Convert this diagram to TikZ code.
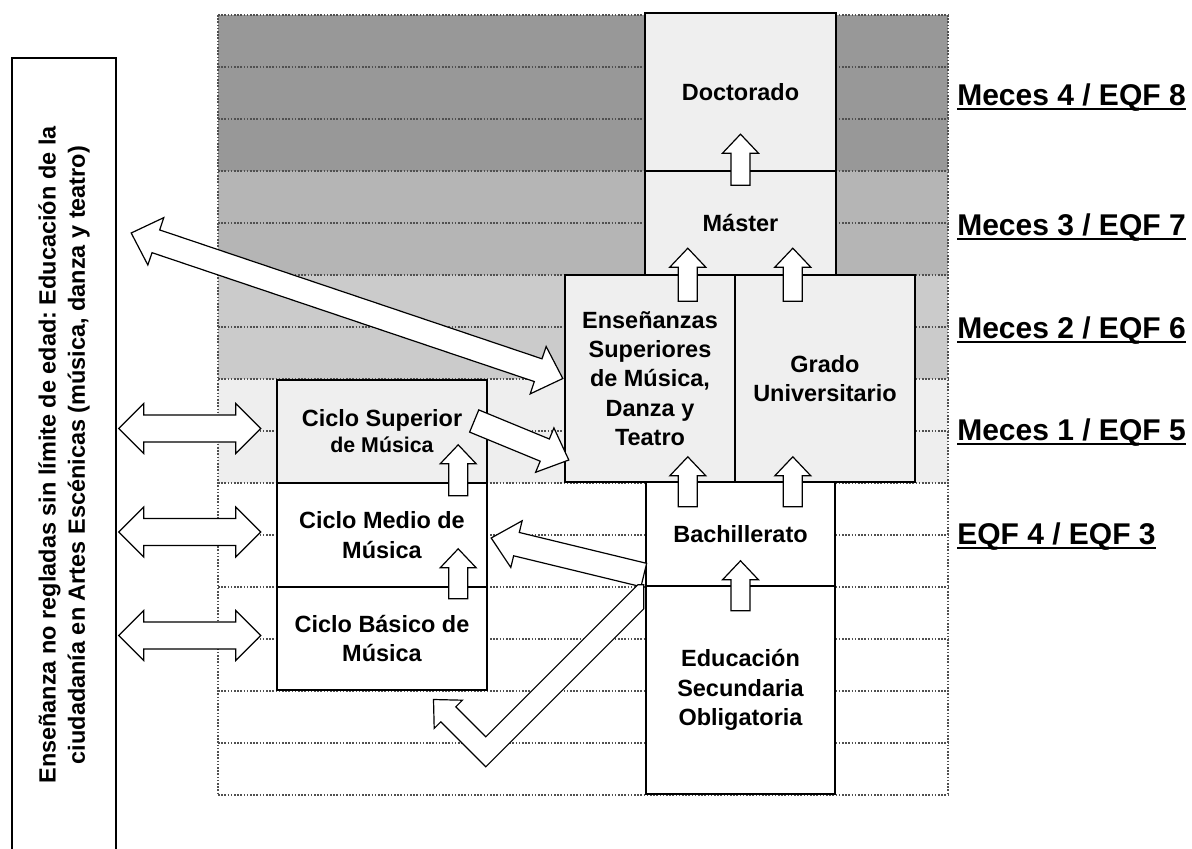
\documentclass[tikz,border=0pt]{standalone}
\usepackage{fontspec}
\setmainfont{Liberation Sans}
\frenchspacing
\usetikzlibrary{calc}
\definecolor{bandA}{HTML}{989898}
\definecolor{bandB}{HTML}{B5B5B5}
\definecolor{bandC}{HTML}{CBCBCB}
\definecolor{bandD}{HTML}{EEEEEE}
\definecolor{boxfill}{HTML}{EFEFEF}
\definecolor{gridc}{HTML}{505050}
\newsavebox\ulsave
\newcommand\ulbox[1]{\sbox\ulsave{#1}\rlap{\rule[-3.9pt]{\wd\ulsave}{1.5pt}}\usebox\ulsave}
\tikzset{
  box/.style={draw=black, line width=1.8pt, inner sep=0pt, align=center,
    font={\bfseries\fontsize{17.6}{22}\selectfont}, text=black},
  blockarr/.style={draw=black, fill=white, line width=0.9pt, line join=miter},
  gridline/.style={gridc, line width=0.8pt, dash pattern=on 1.2pt off 1.2pt},
  levellabel/.style={anchor=base west, inner sep=0pt,
    font={\bfseries\fontsize{22.5}{27}\selectfont}},
}
% single block arrow: start, tip, shaft half width, head half width, head length
\newcommand\blkarrow[5]{%
  \coordinate (ba-h) at ($(#2)!#5!(#1)$);
  \draw[blockarr] ($(#1)!#3!90:(#2)$) -- ($(ba-h)!#3!90:(#2)$) -- ($(ba-h)!#4!90:(#2)$)
    -- (#2) -- ($(ba-h)!#4!-90:(#2)$) -- ($(ba-h)!#3!-90:(#2)$) -- ($(#1)!#3!-90:(#2)$) -- cycle;}
% double block arrow
\newcommand\dblarrow[5]{%
  \coordinate (da-a) at ($(#1)!#5!(#2)$);
  \coordinate (da-b) at ($(#2)!#5!(#1)$);
  \draw[blockarr] (#1) -- ($(da-a)!#4!90:(#2)$) -- ($(da-a)!#3!90:(#2)$)
    -- ($(da-b)!#3!-90:(#1)$) -- ($(da-b)!#4!-90:(#1)$) -- (#2)
    -- ($(da-b)!#4!90:(#1)$) -- ($(da-b)!#3!90:(#1)$)
    -- ($(da-a)!#3!-90:(#2)$) -- ($(da-a)!#4!-90:(#2)$) -- cycle;}
\newcommand\uparr[2]{\blkarrow{#1}{#2}{7.1pt}{13.5pt}{14.25pt}}
\newcommand\diagarr[2]{\blkarrow{#1}{#2}{9pt}{18pt}{19.5pt}}
\begin{document}
\begin{tikzpicture}[x=0.75pt, y=-0.75pt]
\useasboundingbox (0,0) rectangle (1192,849);
% bands
\fill[bandA] (218,15) rectangle (948,171);
\fill[bandB] (218,171) rectangle (948,275);
\fill[bandC] (218,275) rectangle (948,379);
\fill[bandD] (218,379) rectangle (948,483);
\foreach \k in {0,...,15} \draw[gridline] (218,{15+52*\k}) -- (948,{15+52*\k});
\draw[gridline] (218,15) -- (218,795);
\draw[gridline] (948,15) -- (948,795);

% boxes
\node[box, fill=boxfill, minimum width=143.25pt, minimum height=118.5pt] (doc) at (740.5,92) {Doctorado};
\node[box, fill=boxfill, minimum width=143.25pt, minimum height=78pt] (mas) at (740.5,223) {Máster};
\node[box, fill=boxfill, minimum width=127.5pt, minimum height=155.25pt] (ens) at (650,378.5)
  {Enseñanzas\\Superiores\\de Música,\\Danza y\\Teatro};
\node[box, fill=boxfill, minimum width=135pt, minimum height=155.25pt] (gra) at (825,378.5)
  {Grado\\Universitario};
\node[box, fill=white, minimum width=141.75pt, minimum height=78pt] (bach) at (740.5,534) {Bachillerato};
\node[box, fill=white, minimum width=141.75pt, minimum height=156pt] (eso) at (740.5,690)
  {Educación\\Secundaria\\Obligatoria};
\node[box, fill=boxfill, minimum width=157.5pt, minimum height=77.25pt] (csup) at (382,431.5)
  {Ciclo Superior\\[-2.5pt]{\fontsize{16}{19.5}\selectfont de Música}};
\node[box, fill=white, minimum width=157.5pt, minimum height=78pt] (cmed) at (382,535)
  {Ciclo Medio de\\Música};
\node[box, fill=white, minimum width=157.5pt, minimum height=77.25pt] (cbas) at (382,638.5)
  {Ciclo Básico de\\Música};
\node[box, fill=white, rotate=90, minimum width=595.5pt, minimum height=78pt] (nonreg) at (64,455)
  {Enseñanza no regladas sin límite de edad: Educación de la\\ciudadanía en Artes Escénicas (música, danza y teatro)};

% horizontal double arrows
\foreach \b in {csup,cmed,cbas} {
  \coordinate (\b-l) at ($(\b.west)+(-157,-3)$);
  \coordinate (\b-r) at ($(\b.west)+(-15,-3)$);
  \dblarrow{\b-l}{\b-r}{10.1pt}{18.75pt}{18.75pt}
}

% diagonal arrows
\coordinate (bigL) at ($(nonreg.south)+(14,-222)$);
\coordinate (bigR) at ($(ens.west)+(-1,0)$);
\dblarrow{bigL}{bigR}{9pt}{18.75pt}{19.5pt}
\coordinate (supT) at ($(csup.east)+(-14,-10.5)$);
\coordinate (supH) at ($(ens.west)+(5,81.5)$);
\diagarr{supT}{supH}
\coordinate (bachT) at ($(bach.west)+(-1,41)$);
\coordinate (bachH) at ($(cmed.east)+(3,3)$);
\diagarr{bachT}{bachH}

% bent arrow from ESO
\coordinate (esoNW) at (eso.north west);
\draw[blockarr] ($(esoNW)+(-1,24)$) -- ($(esoNW)+(-1,0)$) -- ($(esoNW)+(-7,0)$)
  -- ($(esoNW)+(-159,152)$) -- ($(esoNW)+(-189,122)$) -- ($(esoNW)+(-182.4,115.4)$)
  -- ($(esoNW)+(-211.3,114.7)$) -- ($(esoNW)+(-210.6,143.6)$) -- ($(esoNW)+(-204,137)$)
  -- ($(esoNW)+(-159,182)$) -- cycle;

% upward arrows
\coordinate (u1a) at ($(doc.south)+(0,13)$);   \coordinate (u1b) at ($(doc.south)+(0,-38)$);
\uparr{u1a}{u1b}
\coordinate (u2a) at ($(mas.south west)+(44,25)$); \coordinate (u2b) at ($(mas.south west)+(44,-28)$);
\uparr{u2a}{u2b}
\coordinate (u3a) at ($(mas.south west)+(149,25)$); \coordinate (u3b) at ($(mas.south west)+(149,-28)$);
\uparr{u3a}{u3b}
\coordinate (u4a) at ($(bach.north west)+(43,26)$); \coordinate (u4b) at ($(bach.north west)+(43,-24)$);
\uparr{u4a}{u4b}
\coordinate (u5a) at ($(bach.north west)+(148,26)$); \coordinate (u5b) at ($(bach.north west)+(148,-24)$);
\uparr{u5a}{u5b}
\coordinate (u6a) at ($(eso.north)+(0,26)$); \coordinate (u6b) at ($(eso.north)+(0,-24)$);
\uparr{u6a}{u6b}
\coordinate (u7a) at ($(cmed.north east)+(-30,14)$); \coordinate (u7b) at ($(cmed.north east)+(-30,-37)$);
\uparr{u7a}{u7b}
\coordinate (u8a) at ($(cbas.north east)+(-30,13)$); \coordinate (u8b) at ($(cbas.north east)+(-30,-37)$);
\uparr{u8a}{u8b}

% level labels
\node[levellabel] (l8) at (957,105) {\ulbox{Meces 4 / EQF 8}};
\node[levellabel] (l7) at (957,235) {\ulbox{Meces 3 / EQF 7}};
\node[levellabel] (l6) at (957,338) {\ulbox{Meces 2 / EQF 6}};
\node[levellabel] (l5) at (957,440) {\ulbox{Meces 1 / EQF 5}};
\node[levellabel] (l4) at (957,544) {\ulbox{EQF 4 / EQF 3}};
\end{tikzpicture}
\end{document}
